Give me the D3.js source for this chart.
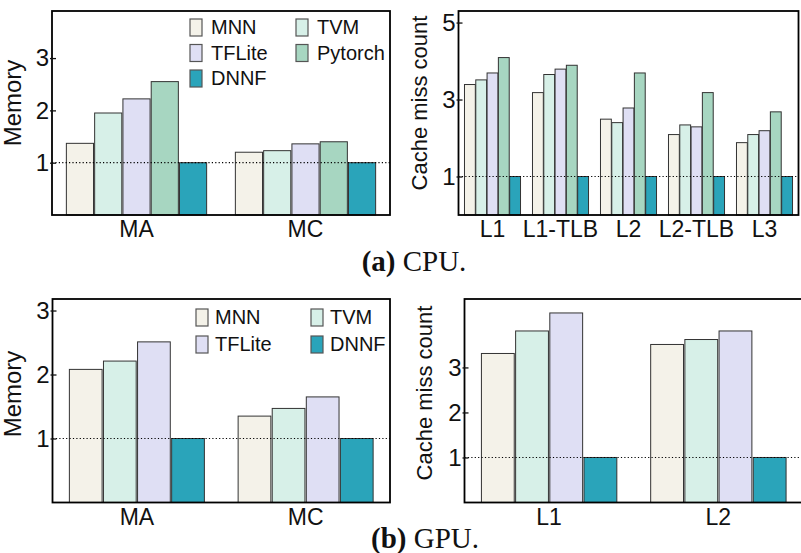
<!DOCTYPE html>
<html>
<head>
<meta charset="utf-8">
<script src="https://cdn.jsdelivr.net/npm/d3@7"></script>
<style>
  body { margin: 0; background: #fff; }
  svg { display: block; }
  text { font-family: "Liberation Sans", Arial, Helvetica, sans-serif; fill: #111; }
  .cap { font-family: "Liberation Serif", "Times New Roman", serif; }
</style>
</head>
<body>
<div id="chart"></div>
<script>
// Series names and categories
const cpuSeries = ["MNN", "TVM", "TFLite", "Pytorch", "DNNF"];
const gpuSeries = ["MNN", "TVM", "TFLite", "DNNF"];
const memCats = ["MA", "MC"];
const cpuCacheCats = ["L1", "L1-TLB", "L2", "L2-TLB", "L3"];
const gpuCacheCats = ["L1", "L2"];

// (a) CPU - memory
const cpuMemMNN = [1.37, 1.20];
const cpuMemTVM = [1.95, 1.23];
const cpuMemTFLite = [2.22, 1.36];
const cpuMemPytorch = [2.55, 1.40];
const cpuMemDNNF = [1, 1];

// (a) CPU - cache miss count
const cpuCacheMNN = [3.39, 3.18, 2.49, 2.09, 1.88];
const cpuCacheTVM = [3.51, 3.65, 2.40, 2.34, 2.09];
const cpuCacheTFLite = [3.69, 3.79, 2.78, 2.29, 2.19];
const cpuCachePytorch = [4.09, 3.89, 3.69, 3.18, 2.68];
const cpuCacheDNNF = [1, 1, 1, 1, 1];

// (b) GPU - memory
const gpuMemMNN = [2.08, 1.35];
const gpuMemTVM = [2.21, 1.47];
const gpuMemTFLite = [2.51, 1.65];
const gpuMemDNNF = [1, 1];

// (b) GPU - cache miss count
const gpuCacheMNN = [3.31, 3.51];
const gpuCacheTVM = [3.81, 3.62];
const gpuCacheTFLite = [4.21, 3.81];
const gpuCacheDNNF = [1, 1];

// tick labels
const cpuMemTicks = [1, 2, 3];
const cpuCacheTicks = [1, 3, 5];
const gpuMemTicks = [1, 2, 3];
const gpuCacheTicks = [1, 2, 3];

const colors = {
    MNN: "#f4f2e9",
    TVM: "#d7f0e8",
    TFLite: "#dfdff4",
    Pytorch: "#a7d6c1",
    DNNF: "#2aa4ba"
};

const sans = "'Liberation Sans', Arial, sans-serif";

const svg = d3.select("#chart")
    .append("svg")
    .attr("width", 801)
    .attr("height", 553);

function drawPanel(p) {
    const g = svg.append("g");
    const x0 = d3.scaleBand()
        .domain(p.cats)
        .range([p.left, p.right])
        .paddingInner(p.padIn)
        .paddingOuter(p.padOut);
    const x1 = d3.scaleBand()
        .domain(p.series)
        .range([0, x0.bandwidth()])
        .paddingInner(0.04);
    const y = d3.scaleLinear().domain([0, p.ymax]).range([p.bottom, p.top]);

    // y title (drawn first so tick labels sit on top)
    g.append("text")
        .attr("transform", `translate(${p.titleX},${p.titleY}) rotate(-90)`)
        .attr("text-anchor", "middle")
        .attr("font-size", p.titleSize)
        .text(p.title);

    // bars
    p.series.forEach((s, si) => {
        g.selectAll(null)
            .data(p.values[si])
            .enter()
            .append("rect")
            .attr("x", (d, i) => x0(p.cats[i]) + x1(s))
            .attr("y", d => y(d))
            .attr("width", x1.bandwidth())
            .attr("height", d => y(0) - y(d))
            .attr("fill", colors[s])
            .attr("stroke", "#333")
            .attr("stroke-width", 1);
    });

    // dotted baseline at 1
    g.append("line")
        .attr("x1", p.left).attr("x2", p.right)
        .attr("y1", y(1)).attr("y2", y(1))
        .attr("stroke", "#000")
        .attr("stroke-width", 1.2)
        .attr("stroke-dasharray", "1.2,2.2");

    // frame
    g.append("rect")
        .attr("x", p.left).attr("y", p.top)
        .attr("width", p.right - p.left)
        .attr("height", p.bottom - p.top)
        .attr("fill", "none")
        .attr("stroke", "#000")
        .attr("stroke-width", 1.8);

    // y axis
    const ya = g.append("g")
        .attr("transform", `translate(${p.left},0)`)
        .call(d3.axisLeft(y).tickValues(p.ticks).tickFormat(d3.format("d"))
            .tickSizeInner(-4).tickSizeOuter(0).tickPadding(3));
    ya.select(".domain").remove();
    ya.selectAll(".tick line").attr("stroke", "#111").attr("stroke-width", 1.3)
        .attr("x1", -2);
    ya.selectAll(".tick text")
        .attr("font-size", 24)
        .attr("font-family", sans)
        .attr("fill", "#111");

    // x labels
    g.selectAll(null)
        .data(p.cats)
        .enter()
        .append("text")
        .attr("x", d => x0(d) + x0.bandwidth() / 2)
        .attr("y", p.bottom + 22)
        .attr("text-anchor", "middle")
        .attr("font-size", 23)
        .text(d => d);
}

function drawLegend(items, cols, lx, ly, colW, rowH, gap) {
    const g = svg.append("g");
    items.forEach((s, i) => {
        const cx = lx + (i % cols) * colW;
        const cy = ly + Math.floor(i / cols) * rowH;
        g.append("rect")
            .attr("x", cx).attr("y", cy)
            .attr("width", 12).attr("height", 17)
            .attr("fill", colors[s])
            .attr("stroke", "#555")
            .attr("stroke-width", 1.2);
        g.append("text")
            .attr("x", cx + gap)
            .attr("y", cy + 15)
            .attr("font-size", 20)
            .text(s);
    });
}

// (a) CPU
drawPanel({
    cats: memCats, series: cpuSeries,
    values: [cpuMemMNN, cpuMemTVM, cpuMemTFLite, cpuMemPytorch, cpuMemDNNF],
    ticks: cpuMemTicks, ymax: 3.9,
    left: 52, right: 390, top: 11, bottom: 215, padIn: 0.17, padOut: 0.085,
    title: "Memory", titleX: 21, titleY: 103, titleSize: 24
});
drawPanel({
    cats: cpuCacheCats, series: cpuSeries,
    values: [cpuCacheMNN, cpuCacheTVM, cpuCacheTFLite, cpuCachePytorch, cpuCacheDNNF],
    ticks: cpuCacheTicks, ymax: 5.3,
    left: 458.5, right: 798.5, top: 11, bottom: 215, padIn: 0.176, padOut: 0.088,
    title: "Cache miss count", titleX: 427, titleY: 103, titleSize: 22
});
drawLegend(["MNN", "TVM", "TFLite", "Pytorch", "DNNF"], 2, 190, 19, 106, 25.5, 21);

// (b) GPU
drawPanel({
    cats: memCats, series: gpuSeries,
    values: [gpuMemMNN, gpuMemTVM, gpuMemTFLite, gpuMemDNNF],
    ticks: gpuMemTicks, ymax: 3.18,
    left: 52.5, right: 390, top: 299, bottom: 502.5, padIn: 0.2, padOut: 0.1,
    title: "Memory", titleX: 21, titleY: 394, titleSize: 24
});
drawPanel({
    cats: gpuCacheCats, series: gpuSeries,
    values: [gpuCacheMNN, gpuCacheTVM, gpuCacheTFLite, gpuCacheDNNF],
    ticks: gpuCacheTicks, ymax: 4.52,
    left: 464.5, right: 803, top: 299, bottom: 502.5, padIn: 0.2, padOut: 0.1,
    title: "Cache miss count", titleX: 432, titleY: 393, titleSize: 22
});
drawLegend(["MNN", "TVM", "TFLite", "DNNF"], 2, 196, 309, 115, 27, 19);

// captions
const capA = svg.append("text").attr("class", "cap")
    .attr("x", 414).attr("y", 271).attr("text-anchor", "middle").attr("font-size", 29);
capA.append("tspan").attr("font-weight", "bold").text("(a)");
capA.append("tspan").text(" CPU.");

const capB = svg.append("text").attr("class", "cap")
    .attr("x", 425).attr("y", 548).attr("text-anchor", "middle").attr("font-size", 29);
capB.append("tspan").attr("font-weight", "bold").text("(b)");
capB.append("tspan").text(" GPU.");
</script>
</body>
</html>
